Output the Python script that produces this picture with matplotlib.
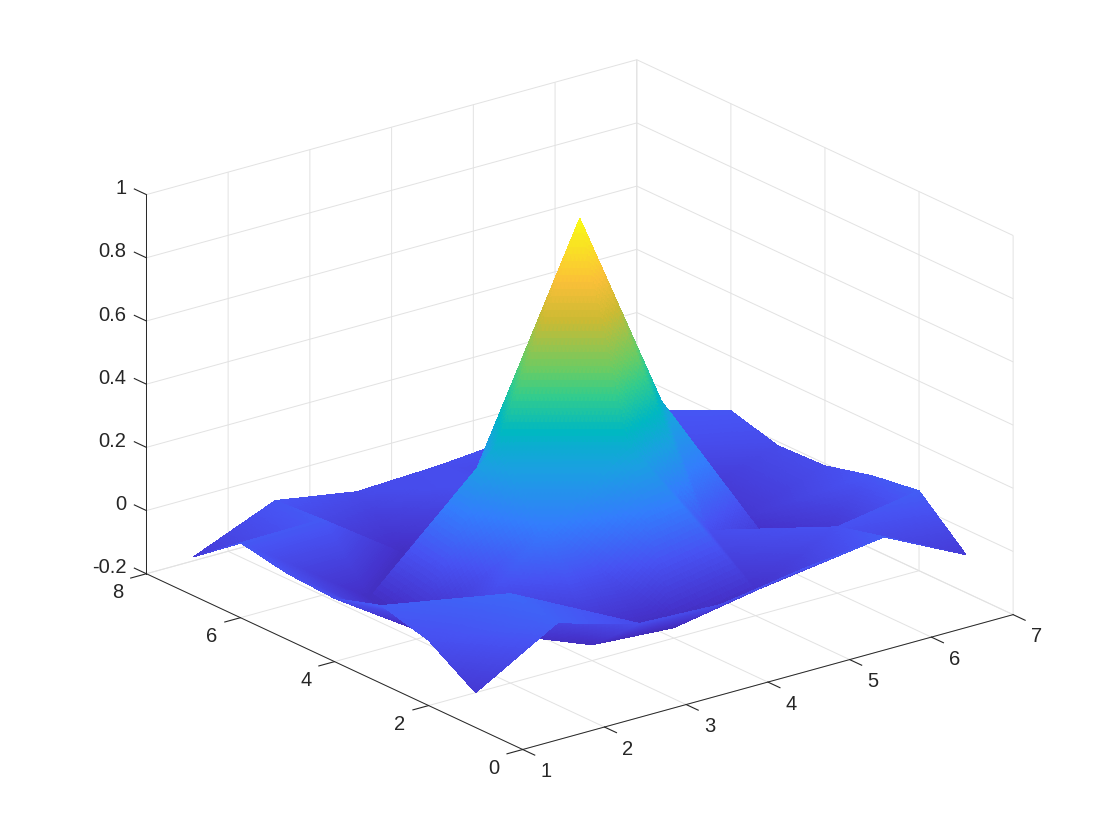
# surf of the 7x7 grid, parula colours, matlab style box

import numpy as np
import matplotlib
matplotlib.use('Agg')
import matplotlib.pyplot as plt
import matplotlib.tri as mtri
from matplotlib.colors import LinearSegmentedColormap
from mpl_toolkits.mplot3d import proj3d

x_vals = [1, 2, 3, 4, 5, 6, 7]
y_vals = [1, 2, 3, 4, 5, 6, 7]
z_rows = [
    [-0.09, 0.06, -0.013, -0.024, 0.017, 0.048, -0.08],
    [0.006, 0.083, -0.15, -0.167, -0.12, 0.01, 0.053],
    [0.047, -0.1, 0.14, 0.35, 0.0, -0.2, 0.031],
    [0.0, -0.17, 0.35, 0.99, 0.34, -0.1, -0.007],
    [0.009, -0.14, 0.0, 0.3, 0.12, -0.1, -0.013],
    [0.037, 0.04, -0.14, 0.0, -0.05, 0.0, 0.028],
    [-0.077, 0.03, -0.013, -0.002, 0.02, 0.03, -0.05],
]
x_ticks = [1, 2, 3, 4, 5, 6, 7]
y_ticks = [0, 2, 4, 6, 8]
z_ticks = [-0.2, 0, 0.2, 0.4, 0.6, 0.8, 1]
z_labels = ['-0.2', '0', '0.2', '0.4', '0.6', '0.8', '1']

# cells that split along the other diagonal
main_diag_cells = [(2, 5)]

parula = LinearSegmentedColormap.from_list('parula', [
    (0.0, (0.2422, 0.1504, 0.6603)), (0.07, (0.27, 0.2, 0.8)), (0.18, (0.28, 0.32, 0.95)),
    (0.296, (0.2, 0.49, 0.99)), (0.41, (0.1, 0.63, 0.88)), (0.49, (0.0, 0.72, 0.76)),
    (0.577, (0.2, 0.8, 0.55)), (0.635, (0.4, 0.8, 0.4)), (0.76, (0.8, 0.73, 0.2)),
    (0.85, (0.98, 0.75, 0.22)), (1.0, (0.9769, 0.9839, 0.0805))])

plt.rcParams['font.family'] = ['Liberation Sans', 'DejaVu Sans']
plt.rcParams['grid.color'] = '#e2e2e2'
plt.rcParams['grid.linewidth'] = 0.7

fig = plt.figure(figsize=(11.2, 8.4), dpi=100)
ax = fig.add_axes([0.0275, 0.0048, 0.96, 1.0], projection='3d', proj_type='ortho')
ax.view_init(elev=21, azim=-127.5)
ax.set_box_aspect((1, 1, 0.657), zoom=1.114)

# triangles of the grid, then subdivided only so the colours blend like shading interp
X, Y = np.meshgrid(x_vals, y_vals)
Z = np.array(z_rows)
n = len(x_vals)
triangles = []
for j in range(n - 1):
    for i in range(n - 1):
        a, b, c, d = j*n + i, j*n + i + 1, (j + 1)*n + i, (j + 1)*n + i + 1
        if (x_vals[i], y_vals[j]) in main_diag_cells:
            triangles += [[a, b, d], [a, d, c]]
        else:
            triangles += [[a, b, c], [b, d, c]]
tri = mtri.Triangulation(X.ravel(), Y.ravel(), triangles)
refiner = mtri.UniformTriRefiner(tri)
tri_fine, z_fine = refiner.refine_field(Z.ravel(), triinterpolator=mtri.LinearTriInterpolator(tri, Z.ravel()), subdiv=5)
ax.plot_trisurf(tri_fine, z_fine, cmap=parula, vmin=-0.2, vmax=0.99,
                shade=False, linewidth=0, antialiased=False)

ax.set_xlim(1, 7, view_margin=0)
ax.set_ylim(0, 8, view_margin=0)
ax.set_zlim(-0.2, 1, view_margin=0)
ax.set_xticks(x_ticks)
ax.set_yticks(y_ticks)
ax.set_zticks(z_ticks)
ax.set_xticklabels([])
ax.set_yticklabels([])
ax.set_zticklabels([])
ax.tick_params(colors='#262626')
ax.zaxis.set_ticks_position('upper')

# matlab ticks point outwards only, along the neighbouring axis
ax.xaxis._get_tickdir = lambda pos: 1
ax.yaxis._get_tickdir = lambda pos: 0
ax.zaxis._get_tickdir = lambda pos: 1

for axis, out_factor in [(ax.xaxis, -0.4), (ax.yaxis, -0.4), (ax.zaxis, 0.4)]:
    axis.set_pane_color((1, 1, 1, 0))
    axis.pane.set_edgecolor('#e2e2e2')
    axis.line.set_color('#262626')
    axis.line.set_linewidth(0.7)
    axis._axinfo['tick']['inward_factor'] = 0
    axis._axinfo['tick']['outward_factor'] = out_factor

# tick labels by hand, the 3d axis will not let them sit where matlab has them
fig.canvas.draw()
proj = ax.get_proj()


def tick_text(x, y, z, label, ha):
    xp, yp, _ = proj3d.proj_transform(x, y, z, proj)
    ax.text2D(xp, yp, label, transform=ax.transData, fontsize=14.5, color='#262626', ha=ha, va='center')


for xt in x_ticks:
    tick_text(xt, -0.5, -0.236, str(xt), 'center')
for yt in y_ticks:
    tick_text(0.65, yt, -0.234, str(yt), 'center')
for zt, lab in zip(z_ticks, z_labels):
    tick_text(1, 8.4255, zt - 0.011, lab, 'right')

plt.savefig('out.png', dpi=100)
